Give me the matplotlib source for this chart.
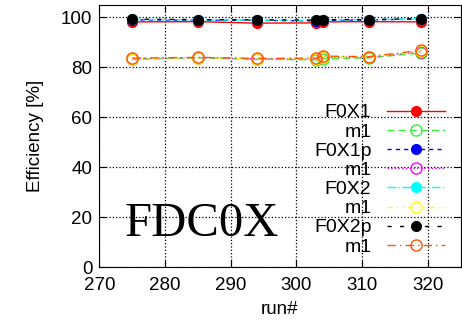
import matplotlib
matplotlib.use("Agg")
import matplotlib.pyplot as plt

plt.rcParams['font.family'] = ['Liberation Sans', 'DejaVu Sans']

runs = [275, 285, 294, 303, 304, 311, 319]

f0x1 = [98.2, 98.3, 97.7, 97.8, 98.2, 98.3, 98.2]
f0x1_m1 = [83.2, 83.8, 83.3, 83.0, 83.5, 83.8, 85.8]
f0x1p = [99.0, 98.9, 98.8, 98.6, 98.8, 99.0, 99.3]
f0x1p_m1 = [83.5, 83.9, 83.4, 83.3, 84.0, 84.0, 86.3]
f0x2 = [99.2, 99.0, 98.9, 98.8, 99.0, 99.1, 99.4]
f0x2_m1 = [83.5, 83.9, 83.5, 83.5, 84.1, 84.2, 86.5]
f0x2p = [99.3, 99.1, 99.0, 98.9, 99.1, 99.1, 99.5]
f0x2p_m1 = [83.7, 84.0, 83.6, 83.7, 84.5, 84.3, 86.8]

fig, ax = plt.subplots(figsize=(4.62, 3.26), dpi=100)
fig.subplots_adjust(left=0.215, right=0.997, top=0.985, bottom=0.18)

ax.plot(runs, f0x1, color='red', ls='-', marker='o', ms=7, lw=1, label='F0X1')
ax.plot(runs, f0x1_m1, color='#33ee33', ls=(0, (5, 3)), marker='o', mfc='none', ms=8, lw=1, label='m1')
ax.plot(runs, f0x1p, color='blue', ls=(0, (3, 3)), marker='o', ms=7, lw=1, label='F0X1p')
ax.plot(runs, f0x1p_m1, color='magenta', ls=':', marker='o', mfc='none', ms=8, lw=1, label='m1')
ax.plot(runs, f0x2, color='cyan', ls='-.', marker='o', ms=7, lw=1, label='F0X2')
ax.plot(runs, f0x2_m1, color='yellow', ls=(0, (4, 3, 1, 3, 1, 3)), marker='o', mfc='none', ms=8, lw=1, label='m1')
ax.plot(runs, f0x2p, color='black', ls=(0, (3, 6)), marker='o', ms=7, lw=1, label='F0X2p')
ax.plot(runs, f0x2p_m1, color='#ff5500', ls=(0, (6, 3, 1, 3)), marker='o', mfc='none', ms=8, lw=1, label='m1')

ax.set_xlim(270, 325)
ax.set_ylim(0, 105)
ax.set_xticks([270, 280, 290, 300, 310, 320])
ax.set_yticks([0, 20, 40, 60, 80, 100])
ax.grid(True, color='black', ls=':', lw=0.9)
ax.tick_params(direction='in', top=True, right=True, labelsize=13.5, length=5, pad=5)
ax.tick_params(axis='x', pad=7)
ax.set_xlabel('run#', fontsize=13.5, labelpad=5)
ax.set_ylabel('Efficiency [%]', fontsize=13.5, labelpad=12)

leg = ax.legend(loc='lower right', bbox_to_anchor=(0.99, 0.0), frameon=False,
                fontsize=14, markerfirst=False, handlelength=3.0,
                labelspacing=0.08, borderaxespad=0.2, handletextpad=0.8)
for t in leg.get_texts():
    t.set_ha('right')
leg._legend_box.align = 'right'

ax.text(0.07, 0.12, 'FDC0X', transform=ax.transAxes, fontsize=35,
        family='Liberation Serif', fontweight='normal')

fig.savefig('out.png')
